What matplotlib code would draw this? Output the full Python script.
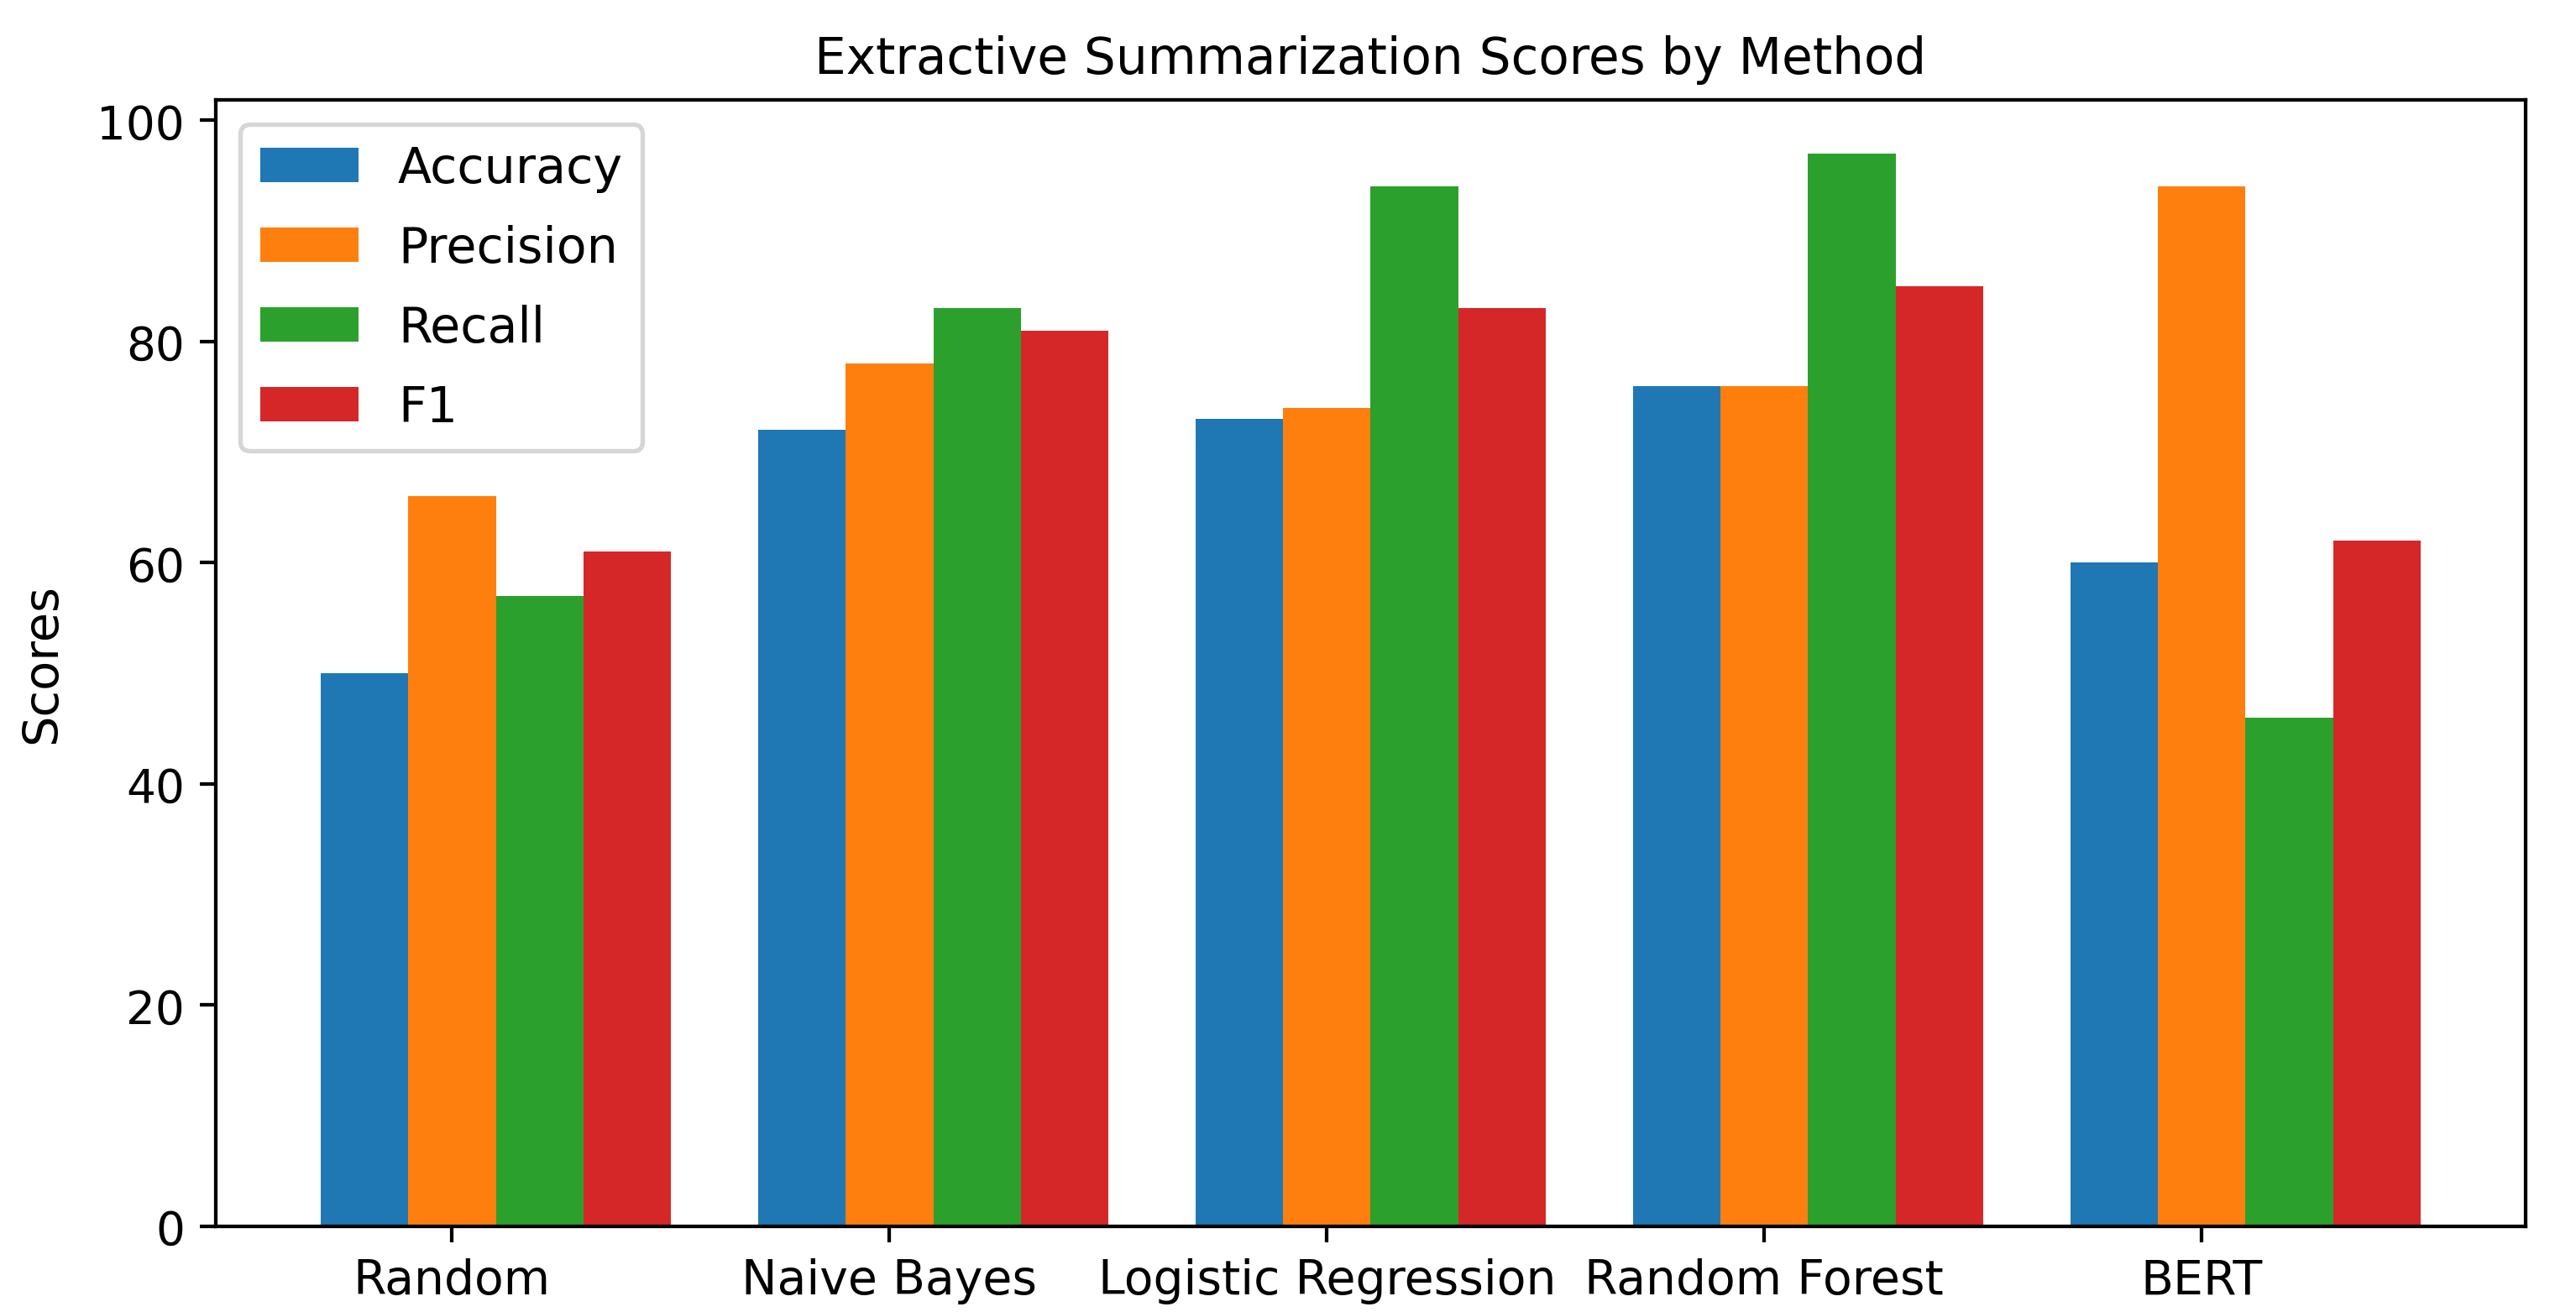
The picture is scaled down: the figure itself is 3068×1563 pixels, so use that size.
import matplotlib
matplotlib.use('Agg')
import matplotlib.pyplot as plt
import numpy as np

# Data
methods = ['Random', 'Naive Bayes', 'Logistic Regression', 'Random Forest', 'BERT']
accuracy = [50, 72, 73, 76, 60]
precision = [66, 78, 74, 76, 94]
recall = [57, 83, 94, 97, 46]
f1 = [61, 81, 83, 85, 62]

# reference looks like an 8x4 in figure at 100 dpi blown up ~3.8x
dpi = 383.5
fig = plt.figure(figsize=(3068 / dpi, 1564 / dpi), dpi=dpi)
ax = fig.add_axes([0.0838, 0.0652, 0.8966, 0.8581])

x = np.arange(len(methods))
width = 0.2

ax.bar(x - width, accuracy, width, label='Accuracy')
ax.bar(x, precision, width, label='Precision')
ax.bar(x + width, recall, width, label='Recall')
ax.bar(x + 2 * width, f1, width, label='F1')

ax.set_ylabel('Scores', fontsize=10.8, labelpad=7)
ax.set_title('Extractive Summarization Scores by Method', fontsize=11.2)
ax.set_xticks(x)
ax.set_xticklabels(methods, fontsize=10.7)
ax.tick_params(axis='y', labelsize=10.3)
ax.legend(loc='upper left', fontsize=11, labelspacing=0.65)

fig.savefig('out.png', dpi=dpi, facecolor='white')
